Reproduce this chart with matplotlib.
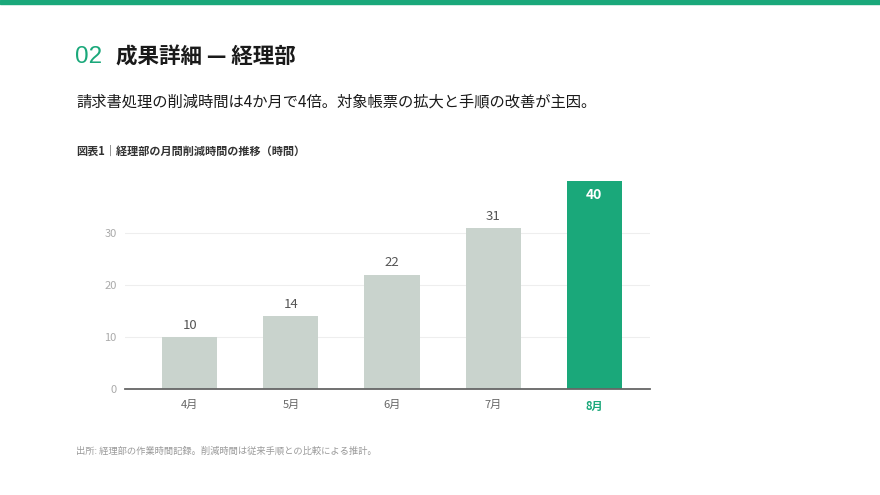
import matplotlib
matplotlib.use("Agg")
import matplotlib.pyplot as plt

plt.rcParams['font.family'] = ['Noto Sans CJK JP', 'DejaVu Sans']

months = ['4月', '5月', '6月', '7月', '8月']
hours = [10, 14, 22, 31, 40]
yticks = [0, 10, 20, 30]

green = '#1aa87a'
grey_bar = '#c9d3cd'

fig = plt.figure(figsize=(8.8, 4.95), dpi=100)

# top stripe
fig.add_artist(plt.Rectangle((0, 1 - 4 / 495), 1, 4 / 495, color=green, transform=fig.transFigure))

# headings
fig.text(75 / 880, 1 - 57 / 495, '02', color=green, fontsize=17.5, va='center', ha='left',
         family=['Liberation Sans', 'DejaVu Sans'])
fig.text(116 / 880, 1 - 57 / 495, '成果詳細 — 経理部', color='#1a1a1a', fontsize=15.5,
         fontweight='bold', va='center', ha='left')
fig.text(76 / 880, 1 - 102 / 495, '請求書処理の削減時間は4か月で4倍。対象帳票の拡大と手順の改善が主因。',
         color='#1a1a1a', fontsize=11, va='center', ha='left')
fig.text(76 / 880, 1 - 151 / 495, '図表1｜経理部の月間削減時間の推移（時間）', color='#333333',
         fontsize=8, fontweight='bold', va='center', ha='left')
fig.text(76 / 880, 1 - 451 / 495, '出所: 経理部の作業時間記録。削減時間は従来手順との比較による推計。',
         color='#9a9a9a', fontsize=6.7, va='center', ha='left')

ax = fig.add_axes([125 / 880, 106 / 495, 525 / 880, 208 / 495])
x = range(len(months))
colors = [grey_bar] * (len(months) - 1) + [green]
ax.bar(x, hours, width=0.545, color=colors, zorder=2)

for i, v in enumerate(hours):
    if i == len(hours) - 1:
        ax.text(i, v - 1.4, str(v), ha='center', va='top', color='white',
                fontsize=10, fontweight='bold', zorder=3)
    else:
        ax.text(i, v + 1.0, str(v), ha='center', va='bottom', color='#555555',
                fontsize=9.5, zorder=3)

ax.set_xlim(-0.64, 4.55)
ax.set_ylim(0, 40)
ax.set_yticks(yticks)
ax.set_xticks(list(x))
ax.set_xticklabels(months)
ax.tick_params(axis='y', length=0, labelsize=8, labelcolor='#aaaaaa', pad=6)
ax.tick_params(axis='x', length=0, labelsize=8, labelcolor='#666666', pad=8)
last = ax.get_xticklabels()[-1]
last.set_color(green)
last.set_fontweight('bold')

ax.grid(axis='y', color='#eeeeee', linewidth=0.8, zorder=0)
for s in ['top', 'right', 'left']:
    ax.spines[s].set_visible(False)
ax.spines['bottom'].set_color('#666666')
ax.spines['bottom'].set_linewidth(1.3)
ax.spines['bottom'].set_zorder(4)

fig.savefig('out.png', dpi=100)
